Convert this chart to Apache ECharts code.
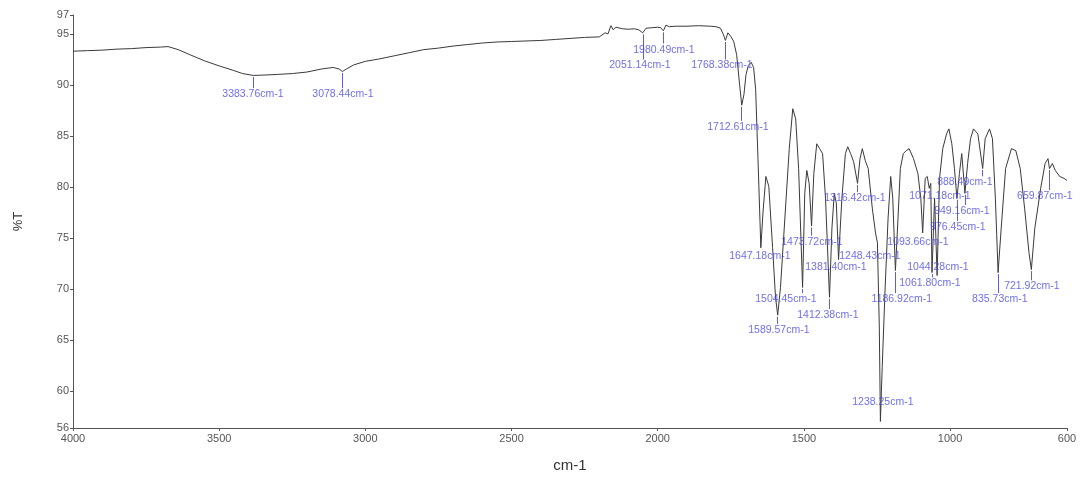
<!DOCTYPE html>
<html><head><meta charset="utf-8">
<script src="https://cdn.jsdelivr.net/npm/echarts@6/dist/echarts.min.js"></script>
<style>html,body{margin:0;padding:0;background:#fff}#c{width:1088px;height:478px}</style>
</head><body><div id="c"></div>
<script>
// ---- spectrum data (wavenumber cm-1, %T) ----
const wavenumbers = [4000,3950,3900,3850,3800,3750,3700,3675,3640,3600,3550,3500,3450,3420,3383.76,3350,3300,3250,3200,3150,3110,3090,3078.44,3065,3040,3000,2950,2900,2850,2800,2750,2700,2650,2600,2550,2500,2450,2400,2350,2300,2250,2200,2180,2170,2160,2152,2143,2120,2100,2080,2065,2051.14,2040,2020,2000,1990,1980.49,1972,1960,1940,1900,1860,1820,1800,1785,1775,1768.38,1760,1750,1740,1730,1720,1712.61,1705,1698,1690,1680,1672,1665,1657,1647.18,1640,1630,1620,1607,1597,1589.57,1580,1565,1550,1538,1528,1518,1504.45,1497,1490,1482,1473.72,1466,1456,1446,1436,1426,1412.38,1404,1396,1389,1381.40,1370,1358,1350,1340,1330,1316.42,1308,1300,1290,1280,1266,1255,1248.43,1242,1238.25,1232,1222,1212,1203,1196,1186.92,1178,1170,1160,1150,1140,1125,1110,1100,1093.66,1085,1078,1071.18,1066,1061.80,1053,1044.28,1036,1025,1012,1004,994,985,976.45,968,960,949.16,940,930,920,905,888.49,880,865,855,845,835.73,825,810,790,775,760,745,730,721.92,710,690,675,665,659.87,650,640,625,610,600];
const transmittance = [93.35,93.4,93.45,93.55,93.6,93.7,93.75,93.8,93.5,93.0,92.4,91.9,91.45,91.15,90.97,91.0,91.07,91.15,91.3,91.6,91.75,91.6,91.35,91.6,92.0,92.35,92.6,92.9,93.2,93.5,93.65,93.85,94.0,94.15,94.25,94.3,94.35,94.4,94.5,94.6,94.7,94.75,95.15,95.05,95.85,95.45,95.7,95.55,95.5,95.55,95.45,95.15,95.6,95.65,95.7,95.65,95.35,95.9,95.75,95.8,95.8,95.85,95.8,95.75,95.6,94.95,94.4,95.15,94.8,94.3,93.0,90.1,88.05,89.1,91.05,91.95,92.25,91.75,89.6,82.8,74.05,77.46,81.05,80.08,74.05,69.19,67.44,70.16,76.97,83.78,87.7,86.7,81.83,70.16,79.4,81.64,80.37,76.19,81.34,84.26,83.78,83.29,78.91,69.19,76.0,79.4,78.43,72.89,78.91,83.29,83.97,83.29,82.51,80.37,82.8,83.78,82.6,81.83,77.94,75.51,74.54,66.28,57.0,62.39,70.16,76.97,81.05,78.91,71.82,76.97,81.83,83.29,83.58,83.78,82.8,81.34,78.91,75.51,80.86,81.05,79.89,80.37,71.62,78.91,71.33,80.86,83.78,85.23,85.72,84.26,81.83,78.91,81.34,83.29,79.4,82.32,84.75,85.72,85.23,81.83,84.75,85.72,84.75,78.91,71.62,76.0,81.83,83.78,83.58,81.83,77.94,73.57,71.91,76.0,79.89,82.32,82.8,81.83,82.32,81.64,81.05,80.86,80.66];

// ---- peak annotations ----
const peakWn = [3383.76,3078.44,2051.14,1980.49,1768.38,1712.61,1647.18,1589.57,1504.45,1473.72,1412.38,1381.40,1316.42,1248.43,1238.25,1186.92,1093.66,1061.80,1044.28,1071.18,976.45,949.16,888.49,835.73,721.92,659.87];
const peakText = ['3383.76cm-1','3078.44cm-1','2051.14cm-1','1980.49cm-1','1768.38cm-1','1712.61cm-1','1647.18cm-1','1589.57cm-1','1504.45cm-1','1473.72cm-1','1412.38cm-1','1381.40cm-1','1316.42cm-1','1248.43cm-1','1238.25cm-1','1186.92cm-1','1093.66cm-1','1061.80cm-1','1044.28cm-1','1071.18cm-1','976.45cm-1','949.16cm-1','888.49cm-1','835.73cm-1','721.92cm-1','659.87cm-1'];

// ---- layout of the annotation labels (label centre, in axis units) ----
const labelX = [3384.4,3076.6,2060.9,1978.8,1780.4,1725.7,1650.5,1585.5,1561.5,1472.6,1417.9,1390.5,1325.6,1274.3,1229.8,1164.8,1110.1,1069.1,1041.7,1034.9,973.3,959.6,949.4,829.7,720.2,675.8];
const labelY = [89.12,89.12,91.94,93.5,91.94,85.91,73.28,65.98,69.0,74.64,67.44,72.11,78.91,73.28,58.89,69.0,74.64,70.55,72.11,79.11,76.09,77.65,80.47,69.0,70.26,79.11];

// ---- axis ticks ----
const xTickValues = [4000,3500,3000,2500,2000,1500,1000,600];
const yMin = 56.36, yMax = 96.9;
const yTickValues = [56.36,60,65,70,75,80,85,90,95,96.9];

function curveAt(w){
  for(let i=0;i<wavenumbers.length-1;i++){
    const a=wavenumbers[i], b=wavenumbers[i+1];
    if(w<=a && w>=b){ const t=(a-w)/(a-b); return transmittance[i]+(transmittance[i+1]-transmittance[i])*t; }
  }
  return transmittance[transmittance.length-1];
}

const spectrum = wavenumbers.map((w,i)=>[w,transmittance[i]]);
const tickLines = [];
peakWn.forEach((w,i)=>{
  const top = curveAt(w) - 0.15, bot = labelY[i] + 0.6;
  if (top - bot > 0.3) tickLines.push({coords:[[w,top],[w,bot]]});
});
const labelData = peakText.map((t,i)=>({name:t, value:[labelX[i], labelY[i]]}));

const FONT = '"Liberation Sans", Arial, sans-serif';
const chart = echarts.init(document.getElementById('c'), null, {renderer:'canvas'});
chart.setOption({
  animation:false,
  backgroundColor:'#ffffff',
  grid:{left:73,right:21,top:15,bottom:46,containLabel:false},
  xAxis:{
    type:'value', min:600, max:4000, inverse:true,
    name:'cm-1', nameLocation:'middle', nameGap:30,
    nameTextStyle:{fontFamily:FONT,fontSize:15,color:'#333'},
    axisLine:{lineStyle:{color:'#555',width:1}},
    axisTick:{show:true,length:3,lineStyle:{color:'#555'},customValues:xTickValues},
    axisLabel:{fontFamily:FONT,fontSize:11,color:'#555',margin:5,customValues:xTickValues,formatter:v=>String(Math.round(v))},
    splitLine:{show:false}
  },
  yAxis:{
    type:'value', min:yMin, max:yMax,
    name:'%T', nameLocation:'middle', nameGap:48, nameRotate:90,
    nameTextStyle:{fontFamily:FONT,fontSize:13,color:'#333'},
    axisLine:{show:true,lineStyle:{color:'#555',width:1}},
    axisTick:{show:true,length:3,lineStyle:{color:'#555'},customValues:yTickValues},
    axisLabel:{fontFamily:FONT,fontSize:11,color:'#555',margin:4,customValues:yTickValues,formatter:v=>String(Math.round(v))},
    splitLine:{show:false}
  },
  series:[
    {type:'line', data:spectrum, symbol:'none', smooth:false,
     lineStyle:{color:'#3a3a3a',width:1}, z:3},
    {type:'lines', coordinateSystem:'cartesian2d', data:tickLines,
     lineStyle:{color:'#5b5bf0',width:1,opacity:1}, z:2},
    {type:'scatter', data:labelData, symbolSize:0, z:4,
     label:{show:true,position:'inside',formatter:'{b}',fontFamily:FONT,fontSize:10.5,color:'#4a4ae6'}}
  ]
});
</script></body></html>
